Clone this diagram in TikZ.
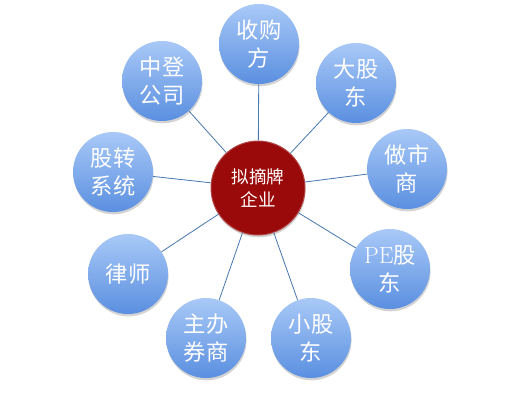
\documentclass[tikz,border=0pt]{standalone}
\usepackage{fontspec}
\newfontfamily\cjk{Noto Sans CJK SC}
\usetikzlibrary{shadows}

\definecolor{ballTop}{HTML}{A9C9F7}
\definecolor{ballBottom}{HTML}{5A8FE0}
\definecolor{hubRed}{HTML}{9A0A0A}
\definecolor{spoke}{HTML}{4A78B0}

\tikzset{
    ball/.style={
           circle,
           minimum size=80*0.03cm,
           inner sep=0pt,
           top color=ballTop, bottom color=ballBottom,
           drop shadow={shadow xshift=0.5pt,shadow yshift=-2pt,opacity=0.35},
           text=white,
           align=center,
           font=\cjk\fontsize{19}{24}\selectfont,
           },
    hub/.style={
           circle,
           minimum size=94*0.03cm,
           inner sep=0pt,
           fill=hubRed,
           draw=hubRed!75!white, line width=0.8pt,
           drop shadow={shadow xshift=0.5pt,shadow yshift=-2pt,opacity=0.35},
           text=white,
           align=center,
           font=\cjk\fontsize{15}{19}\selectfont,
           },
    spokeline/.style={draw=spoke, line width=0.7pt},
}

\begin{document}
\begin{tikzpicture}[x=0.03cm,y=-0.03cm]
\useasboundingbox (0,0) rectangle (517,400);

       \node[hub] (QIYE) at (258,188) {拟摘牌\\企业};

       \node[ball] (SHOUGOU) at (259,44) {收购\\方};
       \node[ball] (DAGUDONG) at (356,83) {大股\\东};
       \node[ball] (ZUOSHI) at (407,169) {做市\\商};
       \node[ball] (PEGUDONG) at (390,269) {{\rmfamily\fontsize{20}{24}\selectfont PE}股\\东};
       \node[ball] (XIAOGUDONG) at (311,338) {小股\\东};
       \node[ball] (QUANSHANG) at (206,338) {主办\\券商};
       \node[ball] (LVSHI) at (128,274) {律师};
       \node[ball] (GUZHUAN) at (113,172) {股转\\系统};
       \node[ball] (ZHONGDENG) at (162,81) {中登\\公司};

       % spokes from the hub
       \foreach \leaf in {SHOUGOU,DAGUDONG,ZUOSHI,PEGUDONG,XIAOGUDONG,QUANSHANG,LVSHI,GUZHUAN,ZHONGDENG}
       {
              \draw[spokeline] (QIYE) -- (\leaf) ;
       }

\end{tikzpicture}
\end{document}
